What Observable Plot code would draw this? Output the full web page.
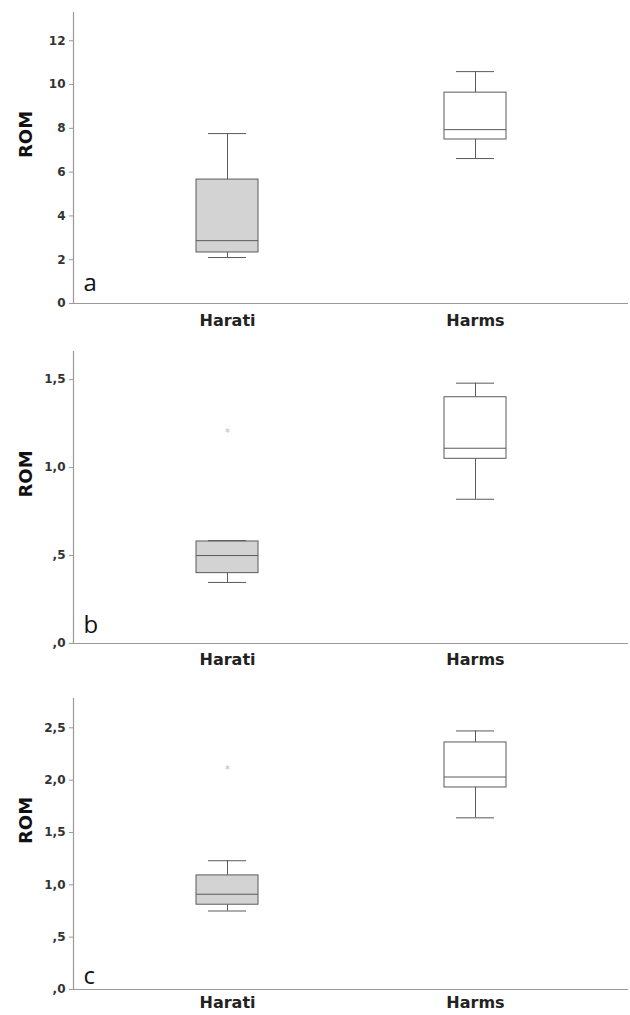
<!DOCTYPE html>
<html><head><meta charset="utf-8">
<script src="https://cdn.jsdelivr.net/npm/d3@7"></script>
<script src="https://cdn.jsdelivr.net/npm/@observablehq/plot@0.6"></script>
<style>body{margin:0;background:#fff} #c svg{display:block}</style>
</head><body><div id="c"></div>
<script>
const groups = ["Harati", "Harms"];
const boxFills = ["#d3d3d3", "#ffffff"];

// Panel a
const aMin = [2.10, 6.62], aQ1 = [2.33, 7.49], aMed = [2.87, 7.94], aQ3 = [5.66, 9.63], aMax = [7.76, 10.59];
const aOutliers = [];
const aTicks = [0, 2, 4, 6, 8, 10, 12];
// Panel b
const bMin = [0.347, 0.82], bQ1 = [0.40, 1.05], bMed = [0.50, 1.11], bQ3 = [0.58, 1.40], bMax = [0.585, 1.48];
const bOutliers = [["Harati", 1.21]];
const bTicks = [0, 0.5, 1.0, 1.5];
// Panel c
const cMin = [0.75, 1.64], cQ1 = [0.81, 1.93], cMed = [0.91, 2.03], cQ3 = [1.09, 2.36], cMax = [1.23, 2.47];
const cOutliers = [["Harati", 2.12]];
const cTicks = [0, 0.5, 1.0, 1.5, 2.0, 2.5];

const intFmt = d => String(d);
const commaFmt = d => d3.format(".1f")(d).replace(".", ",").replace(/^0,/, ",");

function panel(o) {
  const rows = groups.map((g, i) => ({g, min: o.mins[i], q1: o.q1s[i], med: o.meds[i], q3: o.q3s[i], max: o.maxs[i], fill: boxFills[i]}));
  const outs = o.outliers.map(([g, v]) => ({g, v}));
  const stroke = "#5a5a5a";
  return Plot.plot({
    width: 630, height: o.height, marginTop: o.mt, marginBottom: o.mb, marginLeft: 73, marginRight: 2,
    style: {fontFamily: "DejaVu Sans", background: "white"},
    x: {domain: groups, paddingInner: 0.751, paddingOuter: 0.49, label: null},
    y: {domain: [0, o.ymax], label: null},
    color: {type: "identity"},
    marks: [
      Plot.ruleY([0], {stroke: "#9a9a9a", strokeWidth: 1.2}),
      Plot.frame({anchor: "left", stroke: "#9a9a9a", strokeWidth: 1.2}),
      Plot.axisY({ticks: o.ticks, tickFormat: o.fmt, tickSize: 4, tickPadding: 4, stroke: "#9a9a9a", fill: "#333", fontSize: 12, fontWeight: "bold", label: null}),
      Plot.axisX({tickSize: 0, tickPadding: o.xPad, fontSize: 16, fontWeight: "bold", fill: "#222", label: null}),
      Plot.ruleX(rows, {x: "g", y1: "q3", y2: "max", stroke}),
      Plot.ruleX(rows, {x: "g", y1: "min", y2: "q1", stroke}),
      Plot.barY(rows, {x: "g", y1: "q1", y2: "q3", fill: "fill", stroke}),
      Plot.tickY(rows, {x: "g", y: "med", stroke}),
      Plot.tickY(rows, {x: "g", y: "max", stroke, inset: 12}),
      Plot.tickY(rows, {x: "g", y: "min", stroke, inset: 12}),
      Plot.text(outs, {x: "g", y: "v", text: () => "*", fill: "#bbb", fontSize: 10, dy: 2}),
      Plot.text([o.letter], {frameAnchor: "bottom-left", dx: 10, dy: o.letterDy, text: d => d, fontSize: 24, fontFamily: "Open Sans", textAnchor: "start", lineAnchor: "bottom", fill: "#111"}),
      Plot.text(["ROM"], {frameAnchor: "left", dx: -47, rotate: -90, text: d => d, fontSize: 18, fontWeight: "bold", fill: "#111"})
    ]
  });
}

const c = document.getElementById("c");
c.append(panel({letter: "a", mins: aMin, q1s: aQ1, meds: aMed, q3s: aQ3, maxs: aMax, outliers: aOutliers, ticks: aTicks, fmt: intFmt, ymax: 13.29, height: 335, mt: 12, mb: 32, letterDy: -13, xPad: 11}));
c.append(panel({letter: "b", mins: bMin, q1s: bQ1, meds: bMed, q3s: bQ3, maxs: bMax, outliers: bOutliers, ticks: bTicks, fmt: commaFmt, ymax: 1.66, height: 340, mt: 16, mb: 32, letterDy: -11, xPad: 10}));
c.append(panel({letter: "c", mins: cMin, q1s: cMin.map((_, i) => cQ1[i]), meds: cMed, q3s: cQ3, maxs: cMax, outliers: cOutliers, ticks: cTicks, fmt: commaFmt, ymax: 2.78, height: 340, mt: 23, mb: 26, letterDy: -6, xPad: 7}));
</script>
</body></html>
